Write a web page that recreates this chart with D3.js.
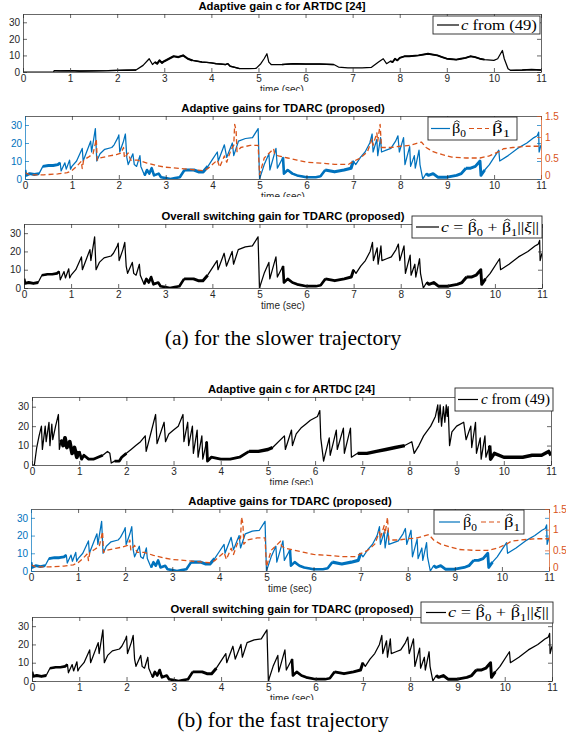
<!DOCTYPE html>
<html><head><meta charset="utf-8">
<script src="https://cdn.jsdelivr.net/npm/d3@7/dist/d3.min.js"></script>
<style>body{margin:0;background:#fff}svg{display:block}</style>
</head><body>
<svg id="chart" width="566" height="741"></svg>
<script>
// ---------------- data ----------------
const xTickValues = [0,1,2,3,4,5,6,7,8,9,10,11];
const leftTickValues = [0,10,20,30];
const rightTickValues = [0,0.5,1,1.5];
const rightTickLabels = ["0","0.5","1","1.5"];
const panelTitles = [
  "Adaptive gain c for ARTDC [24]",
  "Adaptive gains for TDARC (proposed)",
  "Overall switching gain for TDARC (proposed)"
];
const xLabel = "time (sec)";
const captions = ["(a) for the slower trajectory", "(b) for the fast trajectory"];

// slower trajectory, ARTDC gain c  [t, value]
const slowC = [[0,0],[0.65,0],[0.66,0.8],[0.8,0.7],[1.0,0.8],[1.2,0.6],[1.5,0.7],[1.8,0.8],[2.0,1.0],[2.2,1.1],[2.4,1.2],[2.55,4],[2.68,8],[2.75,4.5],[2.8,6],[2.85,5],[2.9,7],[2.95,5.5],[3.0,6.5],[3.1,8],[3.2,9.5],[3.3,9],[3.4,10],[3.5,8],[3.6,7],[3.7,6.5],[3.8,6],[3.9,5.8],[4.0,5.5],[4.1,5],[4.2,4.8],[4.3,4.5],[4.35,5],[4.4,3.5],[4.5,2.8],[4.6,2],[4.8,2],[4.95,2.2],[5.05,5],[5.12,8],[5.18,11],[5.22,6],[5.27,4.5],[5.5,4.5],[5.75,5],[6.0,4.8],[6.3,4.8],[6.6,4.5],[6.7,3],[6.9,2.5],[7.2,2.5],[7.4,2.8],[7.55,6],[7.65,8],[7.72,5],[7.8,6.5],[7.85,6],[7.9,8],[7.95,7],[8.0,8.5],[8.1,9.5],[8.2,9.5],[8.4,10],[8.6,11],[8.8,10],[8.9,9],[9.0,8],[9.2,7.5],[9.3,8],[9.4,8.5],[9.5,9.5],[9.6,9],[9.7,8],[9.8,7.5],[10.0,7],[10.08,8],[10.18,13],[10.22,8],[10.3,2],[10.35,1],[10.6,1.2],[10.8,1.5],[11,1.2]];
// noise band: [t start, t end, half amplitude]
const slowCNoise = [[0.66,2.4,0.4],[2.8,3.6,0.8],[3.6,4.6,0.5],[5.3,6.6,0.3],[7.8,9.8,0.7],[10.35,11,0.5]];

// slower trajectory, TDARC beta0 (left axis)
const slowBeta0 = [[0,5],[0.02,2],[0.1,3],[0.2,2.5],[0.3,3],[0.38,7],[0.5,7.5],[0.6,7.5],[0.7,8],[0.75,9],[0.77,4.5],[0.85,9],[0.88,5.5],[0.95,10.5],[0.97,5.5],[1.0,7],[1.1,10],[1.22,17],[1.24,10],[1.4,21],[1.42,15],[1.5,28],[1.53,10],[1.6,14],[1.7,16.5],[1.85,17.5],[1.9,19],[1.98,23],[2.0,24.5],[2.02,15],[2.1,21],[2.14,25],[2.17,12],[2.2,8],[2.3,14],[2.33,8],[2.38,7],[2.45,13],[2.47,7],[2.55,2],[2.6,5],[2.65,3],[2.7,6],[2.75,2],[2.85,3],[2.9,1],[3.0,0.5],[3.1,0],[3.2,0.5],[3.3,1],[3.4,5],[3.5,5],[3.6,5],[3.7,4],[3.8,4],[3.9,7],[4.0,11],[4.1,15],[4.12,10],[4.25,19],[4.3,12],[4.42,20],[4.45,13],[4.55,21],[4.7,22.5],[4.85,23],[4.97,28],[5.0,0],[5.1,8],[5.2,14],[5.22,5],[5.35,17],[5.38,6],[5.5,12],[5.52,3],[5.6,5],[5.7,3],[5.8,2],[6.0,1],[6.2,1],[6.3,1.5],[6.4,5],[6.6,4],[6.8,5],[6.95,6],[7.0,10],[7.05,8],[7.15,12],[7.25,15],[7.35,20],[7.4,25],[7.42,15],[7.5,22],[7.52,13],[7.58,23],[7.6,15],[7.7,16],[7.8,17],[7.9,21],[7.95,24],[7.98,15],[8.07,23],[8.1,8],[8.2,18],[8.22,7],[8.3,13],[8.32,6],[8.4,16],[8.42,8],[8.48,0],[8.55,3],[8.6,2],[8.7,3],[8.8,1],[9.0,1],[9.2,2],[9.3,3],[9.4,6],[9.5,6],[9.6,7],[9.7,10],[9.72,2],[9.8,5],[9.9,8],[10.1,16],[10.12,10],[10.3,13],[10.5,17],[10.7,20],[10.85,23],[10.92,24],[10.95,26],[10.96,15],[11,19]];
const slowBeta0Noise = [[0,0.3,1.0],[0.38,0.75,1.0],[2.5,3.4,0.9],[3.4,3.9,1.1],[5.5,6.4,0.9],[6.4,7.0,1.1],[8.5,9.4,1.0],[9.4,9.8,1.0]];

// slower trajectory, TDARC beta1 (right axis)
const slowBeta1 = [[0,0.15],[0.1,0.1],[0.4,0.1],[0.7,0.12],[0.9,0.15],[1.0,0.2],[1.1,0.3],[1.2,0.42],[1.22,0.25],[1.25,0.45],[1.35,0.52],[1.45,0.6],[1.5,0.85],[1.52,0.95],[1.54,0.45],[1.6,0.5],[1.8,0.55],[1.95,0.58],[2.05,0.62],[2.1,0.75],[2.12,0.5],[2.2,0.62],[2.25,0.45],[2.4,0.45],[2.6,0.38],[2.8,0.32],[3.0,0.28],[3.3,0.25],[3.6,0.22],[3.8,0.2],[3.9,0.25],[4.0,0.35],[4.1,0.45],[4.15,0.28],[4.25,0.55],[4.3,0.4],[4.4,0.72],[4.45,0.8],[4.47,1.3],[4.5,1.15],[4.52,0.65],[4.6,0.75],[4.8,0.8],[4.97,0.8],[5.0,0.1],[5.1,0.5],[5.3,0.72],[5.32,0.6],[5.4,0.55],[5.6,0.5],[5.8,0.45],[6.0,0.4],[6.3,0.38],[6.6,0.35],[6.9,0.35],[7.0,0.42],[7.15,0.5],[7.3,0.65],[7.4,0.95],[7.42,0.8],[7.5,1.1],[7.52,0.9],[7.57,1.3],[7.6,0.75],[7.8,0.75],[8.0,0.78],[8.2,0.8],[8.35,0.85],[8.45,0.88],[8.55,0.75],[8.7,0.65],[8.9,0.58],[9.1,0.52],[9.4,0.5],[9.7,0.5],[9.9,0.55],[10.1,0.65],[10.2,0.72],[10.4,0.75],[10.7,0.78],[11,0.78]];

// slower trajectory, overall switching gain c = b0 + b1||xi||
const slowTotal = [[0,5],[0.02,2.5],[0.1,3],[0.2,2.5],[0.3,3],[0.38,7],[0.5,7.5],[0.6,7.5],[0.7,8],[0.75,9],[0.77,4.5],[0.85,9],[0.88,5.5],[0.95,10.5],[0.97,5.5],[1.0,7],[1.1,10],[1.22,17],[1.24,10],[1.4,21],[1.42,15],[1.5,28],[1.53,10],[1.6,14],[1.7,16.5],[1.85,17.5],[1.9,19],[1.98,23],[2.0,24.5],[2.02,15],[2.1,21],[2.14,25],[2.17,12],[2.2,8],[2.3,14],[2.33,8],[2.38,7],[2.45,13],[2.47,7],[2.55,2],[2.6,5],[2.65,3],[2.7,6],[2.75,2],[2.85,3],[2.9,1],[3.0,0.5],[3.1,0],[3.2,0.5],[3.3,1],[3.4,5],[3.5,5],[3.6,5],[3.7,4],[3.8,4],[3.9,7],[4.0,11],[4.1,15],[4.12,10],[4.25,19],[4.3,12],[4.42,20],[4.45,13],[4.55,21],[4.7,22.5],[4.85,23],[4.97,28],[5.0,0],[5.1,8],[5.2,14],[5.22,5],[5.35,17],[5.38,6],[5.5,12],[5.52,3],[5.6,5],[5.7,3],[5.8,2],[6.0,1],[6.2,1],[6.3,1.5],[6.4,5],[6.6,4],[6.8,5],[6.95,6],[7.0,10],[7.05,8],[7.15,12],[7.25,15],[7.35,20],[7.4,25],[7.42,15],[7.5,22],[7.52,13],[7.58,23],[7.6,15],[7.7,16],[7.8,17],[7.9,21],[7.95,24],[7.98,15],[8.07,23],[8.1,8],[8.2,18],[8.22,7],[8.3,13],[8.32,6],[8.4,16],[8.42,8],[8.48,0],[8.55,3],[8.6,2],[8.7,3],[8.8,1],[9.0,1],[9.2,2],[9.3,3],[9.4,6],[9.5,6],[9.6,7],[9.7,10],[9.72,2],[9.8,5],[9.9,8],[10.1,16],[10.12,10],[10.3,13],[10.5,17],[10.7,20],[10.85,23],[10.92,24],[10.95,26],[10.96,15],[11,19]];
const slowTotalNoise = [[0,0.3,1.0],[0.38,0.75,0.9],[2.5,3.4,0.9],[3.4,3.9,1.0],[5.5,6.4,0.9],[6.4,7.0,1.0],[8.5,9.4,1.0],[9.4,9.8,1.0]];

// fast trajectory, ARTDC gain c
const fastC = [[0,0],[0.05,0],[0.1,9],[0.15,15],[0.2,20],[0.22,8],[0.28,20],[0.3,12],[0.36,22],[0.38,10],[0.42,21],[0.44,13],[0.5,20],[0.56,26],[0.58,8],[0.62,13],[0.66,10],[0.7,14],[0.74,9],[0.8,12],[0.85,6],[0.9,9],[0.95,4],[1.0,7],[1.05,3],[1.1,5],[1.2,3],[1.3,3],[1.4,4],[1.5,5],[1.6,7],[1.65,6],[1.68,1],[1.75,2],[1.85,2],[1.9,4],[2.0,6],[2.1,8],[2.2,10],[2.3,12],[2.4,15],[2.42,7],[2.62,26],[2.65,11],[2.8,22],[2.83,12],[2.9,16],[3.0,18],[3.1,20],[3.2,26],[3.22,12],[3.3,22],[3.32,10],[3.4,20],[3.42,6],[3.5,18],[3.52,4],[3.6,15],[3.62,3],[3.7,12],[3.72,2],[3.8,4],[4.0,3],[4.2,3],[4.4,4],[4.6,7],[4.8,7],[5.0,8],[5.1,9],[5.35,15],[5.37,8],[5.5,18],[5.52,10],[5.6,16],[5.7,19],[5.8,21],[5.9,23],[6.05,25],[6.1,28],[6.12,14],[6.18,2],[6.3,14],[6.32,5],[6.45,18],[6.47,8],[6.6,19],[6.62,6],[6.75,19],[6.77,4],[6.9,6],[7.1,6],[7.3,7],[7.5,8],[7.7,9],[7.9,10],[8.05,12],[8.1,6],[8.2,10],[8.3,15],[8.45,20],[8.55,25],[8.6,31],[8.62,22],[8.65,31],[8.68,20],[8.72,30],[8.75,22],[8.78,31],[8.8,25],[8.82,30],[8.85,10],[8.9,17],[9.0,20],[9.15,22],[9.2,13],[9.3,20],[9.32,9],[9.4,22],[9.42,6],[9.5,14],[9.52,3],[9.6,15],[9.62,4],[9.7,10],[9.72,3],[9.8,6],[10.0,4],[10.2,4],[10.4,4],[10.6,5],[10.8,5],[10.95,7],[11,5]];
const fastCNoise = [[0.6,1.0,1.2],[1.0,1.55,0.9],[1.7,2.0,0.9],[3.7,4.6,0.9],[4.6,5.1,1.1],[6.8,8.0,1.1],[9.7,11,1.1]];

// fast trajectory, TDARC gains (they coincide with the slower case)
const fastBeta0 = slowBeta0;
const fastBeta0Noise = slowBeta0Noise;
const fastBeta1 = slowBeta1;
const fastTotal = slowTotal;
const fastTotalNoise = slowTotalNoise;

// ---------------- drawing ----------------
const COL_AX = "#262626", BLUE = "#0072BD", ORANGE = "#D95319";
const SANS = "Liberation Sans, Arial, Helvetica, sans-serif";
const SERIF = "Liberation Serif, 'Times New Roman', DejaVu Serif, serif";
const svg = d3.select("#chart");
const defs = svg.append("defs");

function mathText(g, pieces, x, yBase, size, targetW, color) {
  const grp = g.append("g");
  let cx = 0;
  pieces.forEach(p => {
    const fs = p.sub ? size * 0.7 : size;
    const dy = p.sub ? size * 0.28 : 0;
    const t = grp.append("text").attr("x", cx).attr("y", dy)
      .attr("font-family", SERIF).attr("font-size", fs)
      .attr("font-style", p.it ? "italic" : "normal")
      .attr("xml:space", "preserve").style("white-space", "pre")
      .attr("fill", color).text(p.t);
    const w = t.node().getComputedTextLength();
    if (p.hat) {
      const hx = cx + w / 2 + size * 0.05, hy = -size * 0.86;
      grp.append("path")
        .attr("d", `M${hx - size * 0.17},${hy + size * 0.08}L${hx},${hy - size * 0.03}L${hx + size * 0.17},${hy + size * 0.08}`)
        .attr("fill", "none").attr("stroke", color).attr("stroke-width", 0.7);
    }
    cx += w;
  });
  const k = targetW ? targetW / cx : 1;
  grp.attr("transform", `translate(${x},${yBase}) scale(${k},1)`);
}

const legendC = [{t:"c", it:true},{t:"\u00A0from (49)"}];
const legendB0 = [{t:"β", hat:true},{t:"0", sub:true}];
const legendB1 = [{t:"β", hat:true},{t:"1", sub:true}];
const legendTot = [{t:"c", it:true},{t:"\u00A0=\u00A0"},{t:"β", hat:true},{t:"0", sub:true},{t:"\u00A0+\u00A0"},{t:"β", hat:true},{t:"1", sub:true},{t:"||"},{t:"ξ", it:true},{t:"||"}];

function styleAxis(sel, color, fs) {
  sel.attr("font-family", SANS).attr("font-size", fs);
  sel.selectAll("path.domain").attr("stroke", color).attr("stroke-width", 0.7);
  sel.selectAll(".tick line").attr("stroke", color).attr("stroke-width", 0.7);
  sel.selectAll(".tick text").attr("fill", color);
}

function drawPanel(p, idx) {
  const cid = "crop" + idx, pid = "plot" + idx;
  defs.append("clipPath").attr("id", cid).append("rect")
    .attr("x", 0).attr("y", p.crop[0]).attr("width", 566).attr("height", p.crop[1] - p.crop[0]);
  defs.append("clipPath").attr("id", pid).append("rect")
    .attr("x", p.L).attr("y", p.T).attr("width", p.R - p.L).attr("height", p.B - p.T);
  const g = svg.append("g").attr("clip-path", `url(#${cid})`);
  const x = d3.scaleLinear().domain([0, 11]).range([p.L, p.R]);
  const y = d3.scaleLinear().domain([0, 35]).range([p.B, p.T]);
  const yR = d3.scaleLinear().domain([0, 1.5]).range([p.B, p.T]);
  const fs = 10;

  // data
  const plot = g.append("g").attr("clip-path", `url(#${pid})`);
  p.series.forEach(s => {
    const sc = s.right ? yR : y;
    const line = d3.line().x(d => x(d[0])).y(d => sc(d[1]));
    (s.noise || []).forEach(([t0, t1, a]) => {
      const pts = s.data.filter(d => d[0] >= t0 && d[0] <= t1);
      if (pts.length < 2) return;
      plot.append("path").attr("d", line(pts)).attr("fill", "none")
        .attr("stroke", s.color).attr("stroke-width", Math.min(4.5, Math.max(1.4, (sc(0) - sc(a)) * 1.6)))
        .attr("stroke-linejoin", "round").attr("stroke-linecap", "butt");
    });
    plot.append("path").attr("d", line(s.data)).attr("fill", "none")
      .attr("stroke", s.color).attr("stroke-width", s.width || 1.25)
      .attr("stroke-dasharray", s.dash || null).attr("stroke-linejoin", "round");
  });

  // axes
  const tl = 4;
  const bx = g.append("g").attr("transform", `translate(0,${p.B})`)
    .call(d3.axisBottom(x).tickValues(xTickValues).tickFormat(d3.format("d")).tickSize(-tl).tickSizeOuter(0).tickPadding(3));
  styleAxis(bx, COL_AX, fs);
  const tx = g.append("g").attr("transform", `translate(0,${p.T})`)
    .call(d3.axisTop(x).tickValues(xTickValues).tickFormat("").tickSize(-tl).tickSizeOuter(0));
  styleAxis(tx, COL_AX, fs);
  const leftCol = p.dual ? BLUE : COL_AX;
  const lx = g.append("g").attr("transform", `translate(${p.L},0)`)
    .call(d3.axisLeft(y).tickValues(leftTickValues).tickFormat(d3.format("d")).tickSize(-tl).tickSizeOuter(0).tickPadding(3));
  styleAxis(lx, leftCol, fs);
  if (p.dual) {
    const rx = g.append("g").attr("transform", `translate(${p.R},0)`)
      .call(d3.axisRight(yR).tickValues(rightTickValues).tickFormat((d, i) => rightTickLabels[i]).tickSize(-tl).tickSizeOuter(0).tickPadding(4));
    styleAxis(rx, ORANGE, fs);
    rx.selectAll(".tick text").filter(d => d === 0).attr("dy", "-0.05em");
    const rb = g.append("g").attr("transform", `translate(${p.R},0)`)
      .call(d3.axisRight(y).tickValues(leftTickValues).tickFormat("").tickSize(-tl).tickSizeOuter(0));
    styleAxis(rb, BLUE, fs);
    rb.select("path.domain").remove();
  } else {
    const rx = g.append("g").attr("transform", `translate(${p.R},0)`)
      .call(d3.axisRight(y).tickValues(leftTickValues).tickFormat("").tickSize(-tl).tickSizeOuter(0));
    styleAxis(rx, COL_AX, fs);
  }

  // x label
  g.append("text").attr("x", (p.L + p.R) / 2).attr("y", p.B + 21)
    .attr("text-anchor", "middle").attr("font-family", SANS).attr("font-size", fs)
    .attr("fill", COL_AX).text(xLabel);
  // title
  g.append("text").attr("x", (p.L + p.R) / 2).attr("y", p.T - 4)
    .attr("text-anchor", "middle").attr("font-family", SANS).attr("font-size", 11.3)
    .attr("font-weight", "bold").attr("fill", "#000").text(p.title);

  // legend
  const lg = p.legend;
  const lgG = g.append("g");
  lgG.append("rect").attr("x", lg.box[0]).attr("y", lg.box[1])
    .attr("width", lg.box[2] - lg.box[0]).attr("height", lg.box[3] - lg.box[1])
    .attr("fill", "#fff").attr("stroke", COL_AX).attr("stroke-width", 0.9);
  const cy = (lg.box[1] + lg.box[3]) / 2;
  lg.items.forEach(it => {
    lgG.append("line").attr("x1", it.line[0]).attr("x2", it.line[1]).attr("y1", cy).attr("y2", cy)
      .attr("stroke", it.color).attr("stroke-width", 1.2).attr("stroke-dasharray", it.dash || null);
    mathText(lgG, it.text, it.tx[0], cy + it.size * 0.33, it.size, it.tx[1] - it.tx[0], "#000");
  });
}

const panels = [
  { L:23, R:541, T:14, B:72, crop:[0,91], title:panelTitles[0],
    series:[{data:slowC, noise:slowCNoise, color:"#000"}],
    legend:{box:[433,16,540,34], items:[{line:[437,459], color:"#000", text:legendC, tx:[461,537], size:14}]}},
  { L:25, R:541, T:116, B:179, crop:[97,197], title:panelTitles[1], dual:true,
    series:[{data:slowBeta0, noise:slowBeta0Noise, color:BLUE},{data:slowBeta1, right:true, color:ORANGE, dash:"5,3", width:1.3}],
    legend:{box:[428,117,517,140], items:[
      {line:[431,450], color:BLUE, text:legendB0, tx:[452,466], size:14},
      {line:[469,489], color:ORANGE, dash:"5,3", text:legendB1, tx:[492,510], size:14}]}},
  { L:24, R:542, T:224, B:288, crop:[205,312], title:panelTitles[2],
    series:[{data:slowTotal, noise:slowTotalNoise, color:"#000"}],
    legend:{box:[412,216,542,238], items:[{line:[416,439], color:"#000", text:legendTot, tx:[441,539], size:14}]}},
  { L:32, R:551, T:397, B:465, crop:[376,485], title:panelTitles[0],
    series:[{data:fastC, noise:fastCNoise, color:"#000"}],
    legend:{box:[455,388,553,411], items:[{line:[458,478], color:"#000", text:legendC, tx:[481,550], size:14}]}},
  { L:31, R:549, T:509, B:571, crop:[490,594], title:panelTitles[1], dual:true,
    series:[{data:fastBeta0, noise:fastBeta0Noise, color:BLUE},{data:fastBeta1, right:true, color:ORANGE, dash:"5,3", width:1.3}],
    legend:{box:[434,510,524,534], items:[
      {line:[439,460], color:BLUE, text:legendB0, tx:[463,477], size:14},
      {line:[481,500], color:ORANGE, dash:"5,3", text:legendB1, tx:[504,520], size:14}]}},
  { L:32, R:552, T:617, B:681, crop:[600,700], title:panelTitles[2],
    series:[{data:fastTotal, noise:fastTotalNoise, color:"#000"}],
    legend:{box:[421,602,553,623], items:[{line:[426,446], color:"#000", text:legendTot, tx:[448,549], size:14}]}}
];
panels.forEach(drawPanel);

// captions
svg.append("text").attr("x", 283).attr("y", 345).attr("text-anchor", "middle")
  .attr("font-family", SERIF).attr("font-size", 21.5).attr("fill", "#000").text(captions[0]);
svg.append("text").attr("x", 283).attr("y", 727).attr("text-anchor", "middle")
  .attr("font-family", SERIF).attr("font-size", 21.5).attr("fill", "#000").text(captions[1]);
</script>
</body></html>
